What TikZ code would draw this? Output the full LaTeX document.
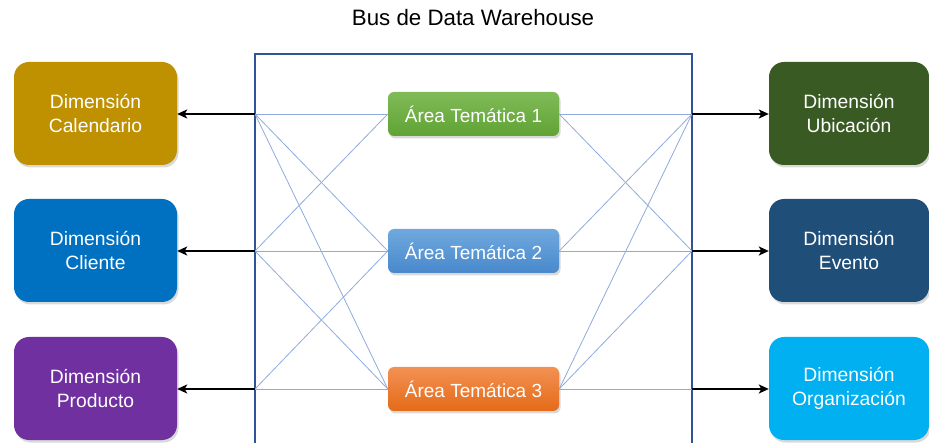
\documentclass[tikz,border=0pt]{standalone}
\usepackage{fontspec}
\setmainfont{Liberation Sans}
\usetikzlibrary{arrows.meta,shadows}

\definecolor{calgold}{HTML}{BF9000}
\definecolor{cliblue}{HTML}{0070C0}
\definecolor{propurple}{HTML}{7030A0}
\definecolor{ubigreen}{HTML}{3A5A24}
\definecolor{evtblue}{HTML}{1F4E79}
\definecolor{orgcyan}{HTML}{00B0F0}
\definecolor{busedge}{HTML}{2F5597}
\definecolor{busline}{HTML}{8FAADC}
\definecolor{greentop}{HTML}{80BB58}
\definecolor{greenbot}{HTML}{60A334}
\definecolor{bluetop}{HTML}{70A9DE}
\definecolor{bluebot}{HTML}{4888CC}
\definecolor{orangetop}{HTML}{F39153}
\definecolor{orangebot}{HTML}{E46A18}

\tikzset{
  dimbox/.style={rounded corners=15pt, minimum width=163pt, minimum height=103pt,
    text=white, align=center, font=\fontsize{19.3}{24}\selectfont,
    drop shadow={shadow xshift=1.5pt, shadow yshift=-2.5pt, opacity=0.3}},
  areabox/.style={rounded corners=6pt, minimum width=171pt, minimum height=44pt,
    text=white, font=\fontsize{19}{22}\selectfont,
    drop shadow={shadow xshift=1.5pt, shadow yshift=-2.5pt, opacity=0.3}},
  link/.style={draw=busline, line width=0.8pt},
  feed/.style={draw=black, line width=2pt, -{Stealth[length=10pt,width=9pt,inset=2.5pt]}},
}

\begin{document}
\begin{tikzpicture}[x=1pt,y=-1pt]
\useasboundingbox (0,0) rectangle (929,443);

% title
\node (title) at (473,18) {\fontsize{22.3}{26}\selectfont Bus de Data Warehouse};

% bus frame (open at the bottom)
\draw[busedge, line width=1.2pt] (255,443) -- (255,54) -- (692,54) -- (692,443);

% attachment points on the bus
\coordinate (L1) at (255,114);
\coordinate (L2) at (255,251);
\coordinate (L3) at (255,389);
\coordinate (R1) at (692,114);
\coordinate (R2) at (692,251);
\coordinate (R3) at (692,389);

% subject areas
\node[areabox, top color=greentop, bottom color=greenbot] (a1) at (473.5,114) {Área Temática 1};
\node[areabox, top color=bluetop, bottom color=bluebot] (a2) at (473.5,251) {Área Temática 2};
\node[areabox, top color=orangetop, bottom color=orangebot] (a3) at (473.5,389) {Área Temática 3};

% links between bus and subject areas
\foreach \p/\a in {L1/a1, L1/a2, L1/a3, L2/a1, L2/a2, L2/a3, L3/a2, L3/a3}
  \draw[link] (\p) -- (\a.west);
\foreach \a/\p in {a1/R1, a1/R2, a2/R1, a2/R2, a3/R1, a3/R2, a3/R3}
  \draw[link] (\a.east) -- (\p);

% dimensions
\node[dimbox, fill=calgold]   (cal) at (95.5,113.5) {Dimensión\\Calendario};
\node[dimbox, fill=cliblue]   (cli) at (95.5,250.5) {Dimensión\\Cliente};
\node[dimbox, fill=propurple] (pro) at (95.5,388.5) {Dimensión\\Producto};
\node[dimbox, fill=ubigreen, minimum width=160pt] (ubi) at (849,113.5) {Dimensión\\Ubicación};
\node[dimbox, fill=evtblue,  minimum width=160pt] (evt) at (849,250.5) {Dimensión\\Evento};
\node[dimbox, fill=orgcyan,  minimum width=160pt] (org) at (849,388.5) {Dimensión\\Organización};

% bus feeds into dimensions
\draw[feed] (L1) -- (L1 -| cal.east);
\draw[feed] (L2) -- (L2 -| cli.east);
\draw[feed] (L3) -- (L3 -| pro.east);
\draw[feed] (R1) -- (R1 -| ubi.west);
\draw[feed] (R2) -- (R2 -| evt.west);
\draw[feed] (R3) -- (R3 -| org.west);
\end{tikzpicture}
\end{document}
